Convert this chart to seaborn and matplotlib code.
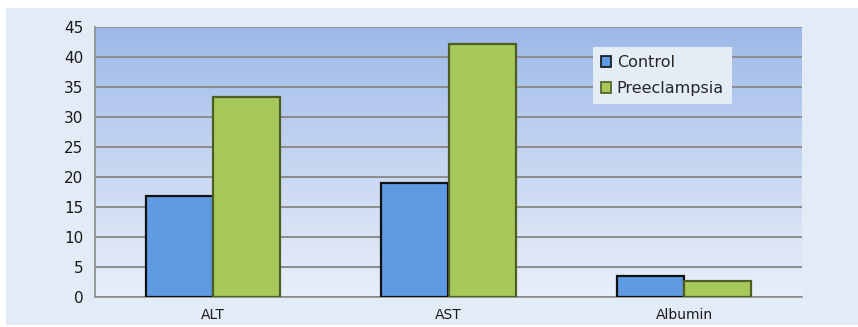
import numpy as np
import pandas as pd
import seaborn as sns
import matplotlib.pyplot as plt
from matplotlib.colors import LinearSegmentedColormap
from matplotlib.patches import Rectangle

categories = ["ALT", "AST", "Albumin"]
control = [16.8, 19.0, 3.5]
preeclampsia = [33.3, 42.2, 2.6]

df = pd.DataFrame({
    "test": categories * 2,
    "value": control + preeclampsia,
    "group": ["Control"] * 3 + ["Preeclampsia"] * 3,
})

sns.set_style("white")
plt.rcParams["font.family"] = ["DejaVu Sans"]

fig = plt.figure(figsize=(8.58, 3.27), dpi=100)
fig.patch.set_facecolor("white")
# light blue outer panel
fig.patches.append(Rectangle((6 / 858, 2 / 327), 852 / 858, 317 / 327, transform=fig.transFigure,
                             facecolor="#e3ebf7", edgecolor="none", zorder=-10))

ax = fig.add_axes([95 / 858, 30 / 327, 707 / 858, 270 / 327])
ax.set_facecolor("none")

# gradient background in plot area
grad = LinearSegmentedColormap.from_list("bg", ["#e9eff9", "#c6d6f1", "#9db9e8"])
ax.imshow(np.linspace(0, 1, 256).reshape(-1, 1), cmap=grad, origin="lower", aspect="auto",
          extent=(-0.5, 2.5, 0, 45), zorder=0)

sns.barplot(data=df, x="test", y="value", hue="group", ax=ax,
            palette={"Control": "#5e9be3", "Preeclampsia": "#a7c85a"},
            width=0.57, gap=0, saturation=1, zorder=3)

edge = {"Control": "#111111", "Preeclampsia": "#4e5e22"}
for cont, name in zip(ax.containers, ["Control", "Preeclampsia"]):
    for bar in cont:
        bar.set_edgecolor(edge[name])
        bar.set_linewidth(1.6)

ax.set_xlim(-0.5, 2.5)
ax.set_ylim(0, 45)
ax.set_yticks(range(0, 46, 5))
ax.yaxis.grid(True, color="#8c8c8c", linewidth=1.4, zorder=1)
ax.set_axisbelow(True)
ax.set_xlabel("")
ax.set_ylabel("")

ax.set_xticks([-0.5, 0.5, 1.5, 2.5], minor=True)
ax.tick_params(axis="x", which="major", length=0, pad=8, labelsize=10, colors="#1a1a1a")
ax.tick_params(axis="x", which="minor", length=5, width=1, color="#8c8c8c", direction="out")
ax.tick_params(axis="y", length=5, width=1, color="#8c8c8c", direction="out", labelsize=11,
               labelcolor="#1a1a1a")

for side in ["top", "right"]:
    ax.spines[side].set_visible(False)
for side in ["left", "bottom"]:
    ax.spines[side].set_color("#8c8c8c")
    ax.spines[side].set_linewidth(1.2)

leg = ax.legend(loc="upper left", bbox_to_anchor=(0.704, 0.925), borderaxespad=0, frameon=True,
                fontsize=11.5, handlelength=0.65, handleheight=0.65, handletextpad=0.35,
                labelspacing=0.7, borderpad=0.5, fancybox=False)
leg.get_frame().set_facecolor("#e4ecf6")
leg.get_frame().set_edgecolor("none")
leg.get_frame().set_alpha(1)
for h, name in zip(leg.legend_handles, ["Control", "Preeclampsia"]):
    h.set_edgecolor(edge[name])
    h.set_linewidth(1.2)

fig.savefig("out.png", dpi=100)
